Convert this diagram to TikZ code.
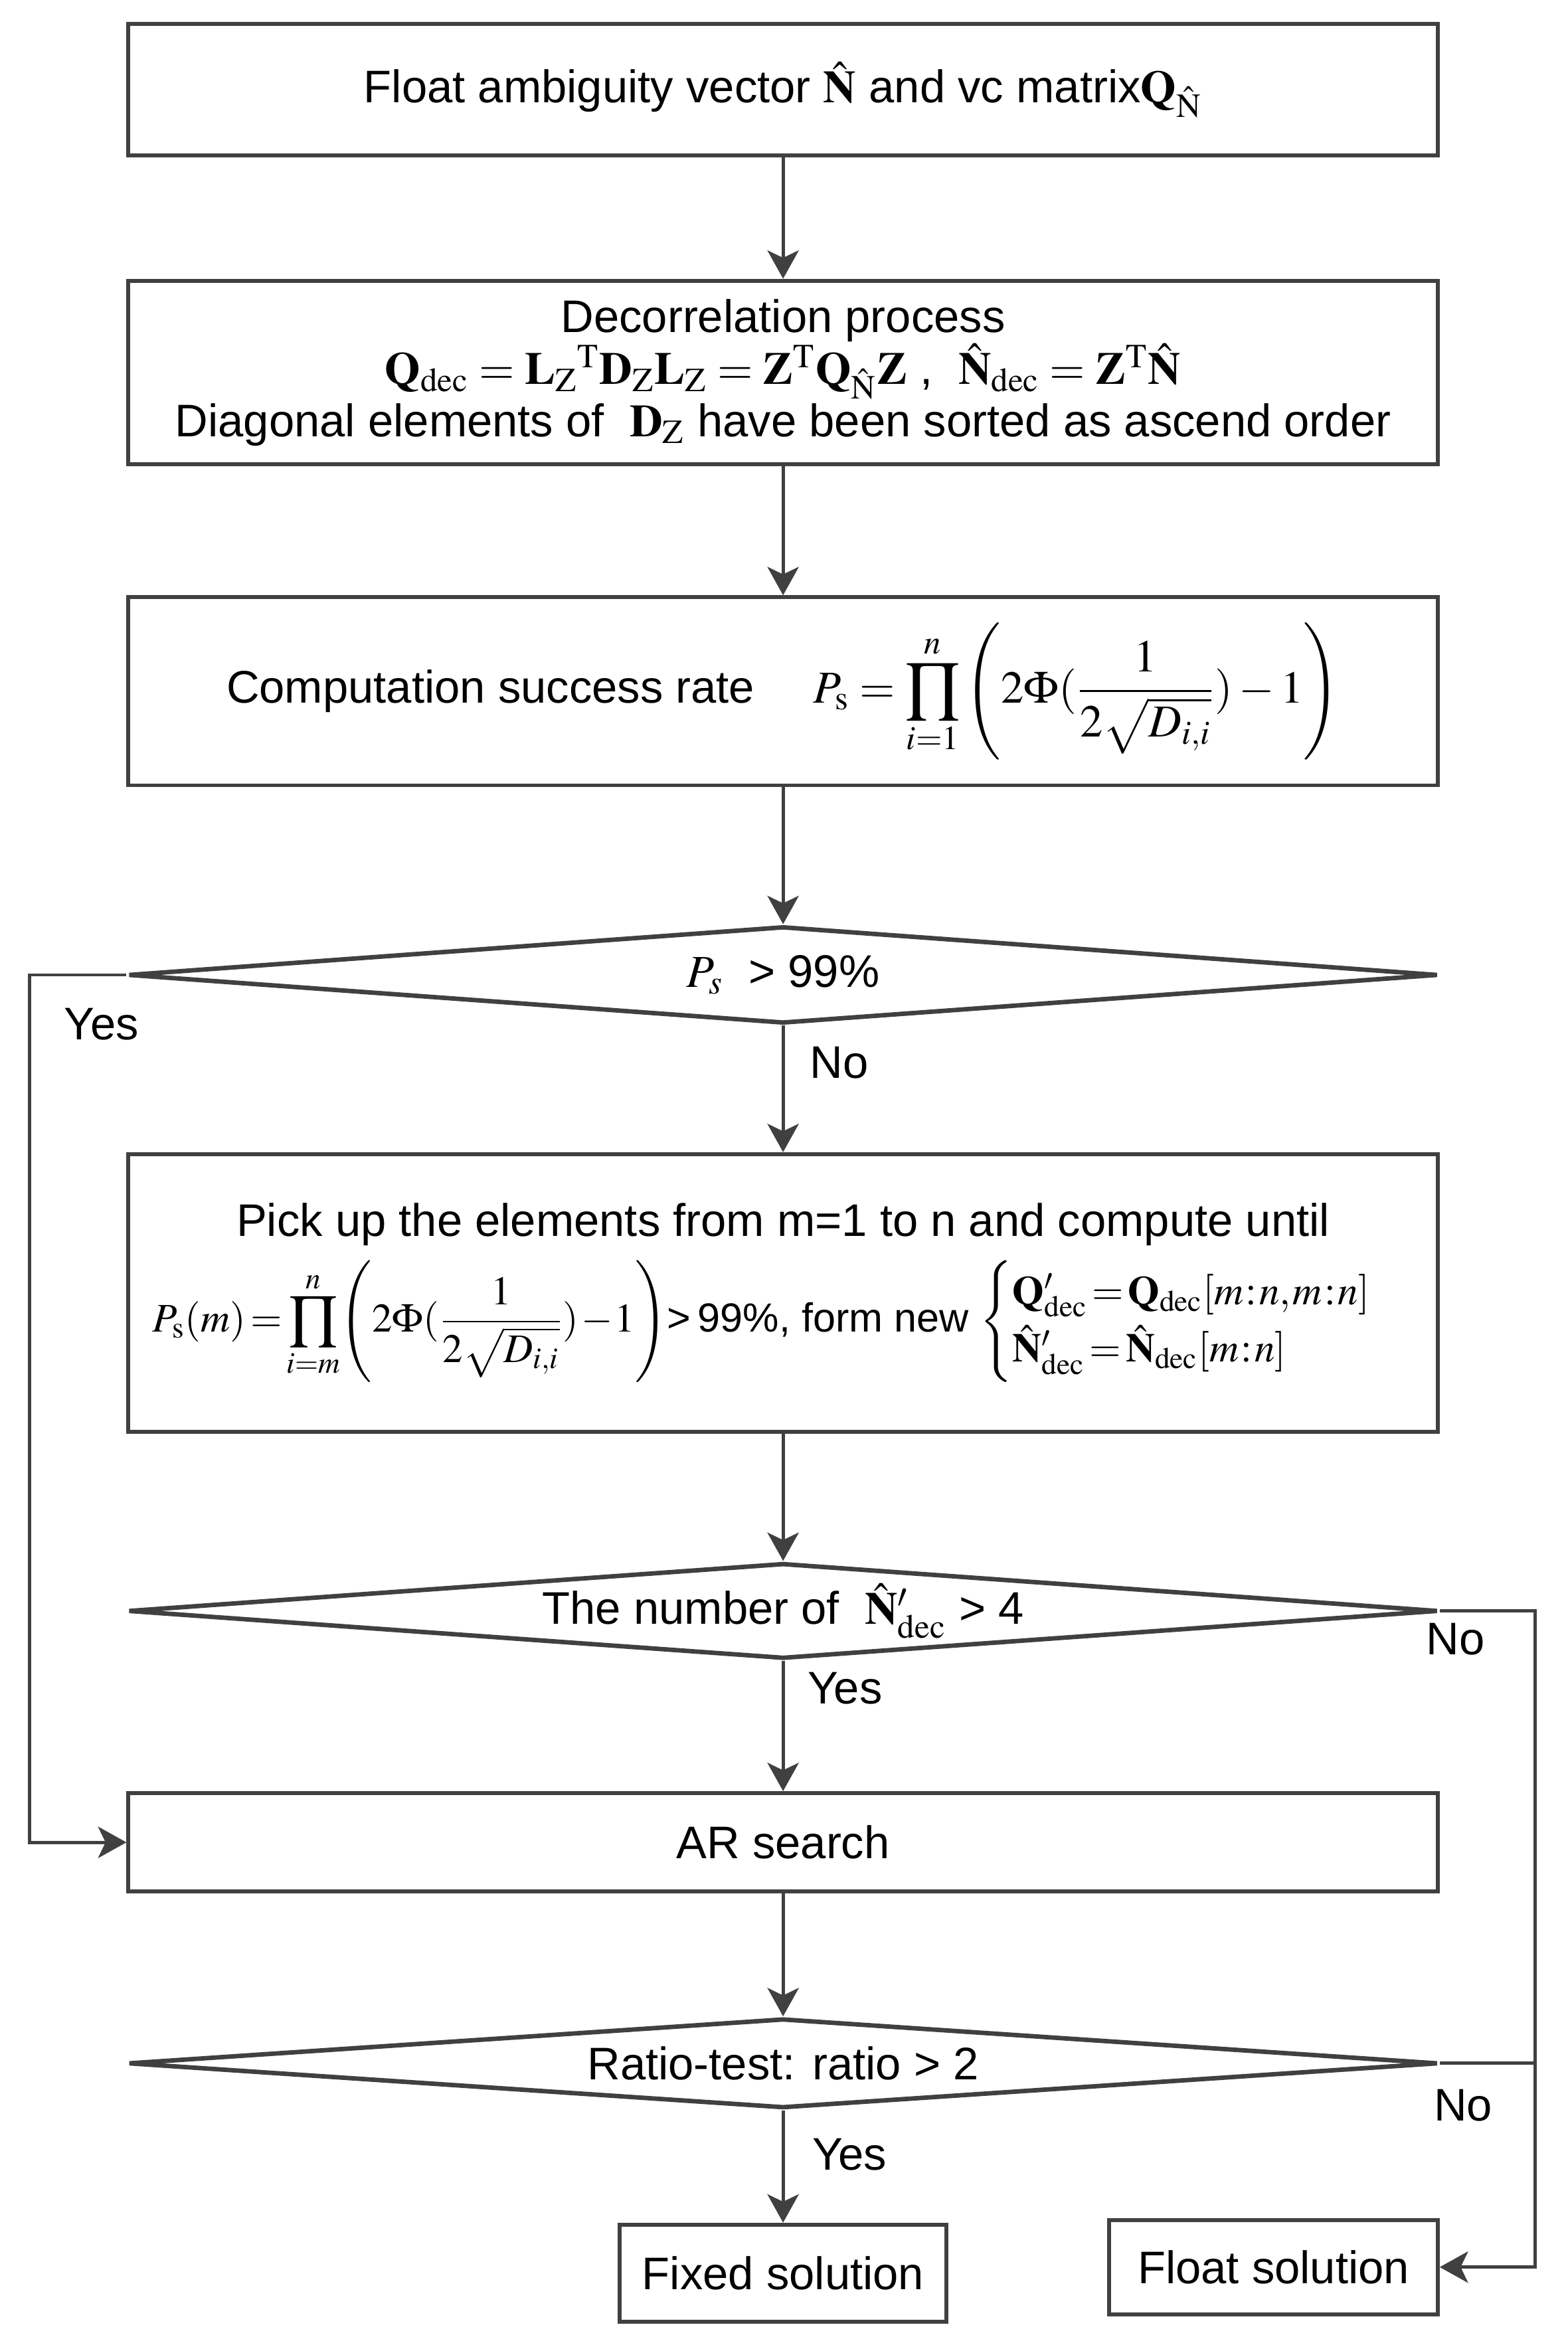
\documentclass[tikz,border=0pt]{standalone}
\usepackage{amsmath}
\usepackage{mathptmx}
\usepackage[no-math]{fontspec}
\setmainfont{Liberation Sans}
\usetikzlibrary{shapes.geometric,arrows.meta}
\definecolor{linegray}{HTML}{404040}
\tikzset{
    process/.style={draw=linegray, line width=1.3pt, rectangle, align=center, inner sep=0pt},
    decision/.style={draw=linegray, line width=1.5pt, diamond, inner sep=0pt, aspect=13},
    flow/.style={draw=linegray, line width=1.1pt, -{Stealth[length=9.5pt,width=10.5pt,inset=2.5pt]}},
    link/.style={draw=linegray, line width=1.1pt},
    answer/.style={inner sep=0pt}
}

\begin{document}
\begin{tikzpicture}[x=0.5pt, y=-0.5pt, font=\fontsize{15.3}{18.5}\selectfont]
    \useasboundingbox (0,0) rectangle (1050,1568);

    % Boxes of the main chain
    \node[process, minimum width=438.5pt, minimum height=44pt] (input) at (524.5,60)
        {Float ambiguity vector $\hat{\mathbf{N}}$ and vc matrix$\mathbf{Q}_{\hat{\mathrm{N}}}$};
    \node[process, minimum width=438.5pt, minimum height=61.5pt] (decor) at (524.5,249.5)
        {Decorrelation process\\[-1pt]
         $\mathbf{Q}_{\mathrm{dec}} = \mathbf{L}_{\mathrm{Z}}{}^{\mathrm{T}}\mathbf{D}_{\mathrm{Z}}\mathbf{L}_{\mathrm{Z}} = \mathbf{Z}^{\mathrm{T}}\mathbf{Q}_{\hat{\mathrm{N}}}\mathbf{Z}$ ,\ \ $\hat{\mathbf{N}}_{\mathrm{dec}} = \mathbf{Z}^{\mathrm{T}}\hat{\mathbf{N}}$\\[-1pt]
         Diagonal elements of \ $\mathbf{D}_{\mathrm{Z}}$ have been sorted as ascend order};
    \node[process, minimum width=438.5pt, minimum height=63pt] (rate) at (524.5,463)
        {Computation success rate \quad $P_{\mathrm{s}} = \displaystyle\prod_{i=1}^{n}\left(2\Phi(\frac{1}{2\sqrt{D_{i,i}}})-1\right)$};
    \node[decision, minimum width=438.5pt, minimum height=32.5pt] (test1) at (524.5,653) {};
    \node[answer] (test1txt) at (test1.center) {$P_s$\ \ > 99\%};
    \node[process, minimum width=438.5pt, minimum height=93pt] (pick) at (524.5,866)
        {Pick up the elements from m=1 to n and compute until\\[4pt]
         {\fontsize{13.6}{16}\selectfont\medmuskip=1mu\thickmuskip=2mu\thinmuskip=1mu%
         $P_{\mathrm{s}}(m) = \displaystyle\prod_{i=m}^{n}\!\left(2\Phi(\frac{1}{2\sqrt{D_{i,i}}})-1\right)$>\,99\%, form new
         $\begin{cases}
            \mathbf{Q}'_{\mathrm{dec}} = \mathbf{Q}_{\mathrm{dec}}[m\!:\!n,m\!:\!n]\\
            \hat{\mathbf{N}}'_{\mathrm{dec}} = \hat{\mathbf{N}}_{\mathrm{dec}}[m\!:\!n]
          \end{cases}$}};
    \node[decision, minimum width=438.5pt, minimum height=32pt] (test2) at (524.5,1079) {};
    \node[answer] (test2txt) at (test2.center) {The number of \ $\hat{\mathbf{N}}'_{\mathrm{dec}}$ > 4};
    \node[process, minimum width=438.5pt, minimum height=33pt] (search) at (524.5,1234) {AR search};
    \node[decision, minimum width=438.5pt, minimum height=30pt] (test3) at (524.5,1382) {};
    \node[answer] (test3txt) at (test3.center) {Ratio-test: ratio > 2};
    \node[process, minimum width=109.5pt, minimum height=32.5pt] (fixed) at (524.5,1522.5) {Fixed solution};
    \node[process, minimum width=110pt, minimum height=31.5pt] (float) at (853,1518.5) {Float solution};

    % Bend points of the bypass lines
    \coordinate (leftup) at (20,653);
    \coordinate (leftdown) at (20,1234);
    \coordinate (rightup) at (1028,1079);
    \coordinate (rightmid) at (1028,1382);
    \coordinate (rightdown) at (1028,1518.5);

    % Connectors
    \draw[flow] (input) -- (decor);
    \draw[flow] (decor) -- (rate);
    \draw[flow] (rate) -- (test1.north);
    \draw[flow] (test1.south) -- (pick);
    \draw[flow] (pick) -- (test2.north);
    \draw[flow] (test2.south) -- (search);
    \draw[flow] (search) -- (test3.north);
    \draw[flow] (test3.south) -- (fixed);
    \draw[flow] (test1.west) -- (leftup) -- (leftdown) -- (search.west);
    \draw[flow] (test2.east) -- (rightup) -- (rightdown) -- (float.east);
    \draw[link] (test3.east) -- (rightmid);

    % Branch labels
    \node[answer] (yes1) at (68,686) {Yes};
    \node[answer] (no1) at (562,712) {No};
    \node[answer] (no2) at (975,1098) {No};
    \node[answer] (yes2) at (566,1131) {Yes};
    \node[answer] (no3) at (980,1410) {No};
    \node[answer] (yes3) at (569,1443) {Yes};
\end{tikzpicture}
\end{document}
